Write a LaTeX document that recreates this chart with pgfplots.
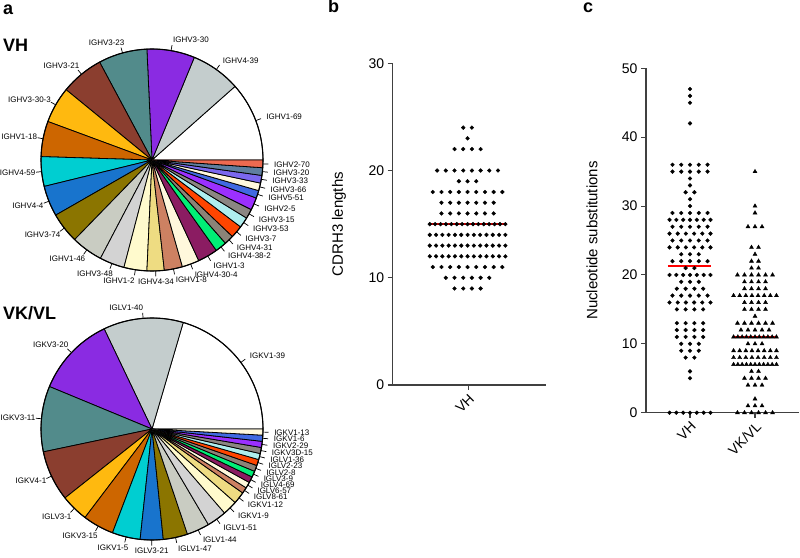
\documentclass[border=0pt]{standalone}
\usepackage{fontspec}
\setmainfont{Liberation Sans}
\setsansfont{Liberation Sans}
\usepackage{pgfplots}
\pgfplotsset{compat=1.18}

\definecolor{pc1}{HTML}{FFFFFF}
\definecolor{pc2}{HTML}{C4CDCD}
\definecolor{pc3}{HTML}{8A2BE2}
\definecolor{pc4}{HTML}{528B8B}
\definecolor{pc5}{HTML}{8B3E2F}
\definecolor{pc6}{HTML}{FFB90F}
\definecolor{pc7}{HTML}{CD6600}
\definecolor{pc8}{HTML}{00CED1}
\definecolor{pc9}{HTML}{1874CD}
\definecolor{pc10}{HTML}{8B7500}
\definecolor{pc11}{HTML}{C9CCC2}
\definecolor{pc12}{HTML}{D3D3D3}
\definecolor{pc13}{HTML}{FFFACD}
\definecolor{pc14}{HTML}{EEDC82}
\definecolor{pc15}{HTML}{CD8162}
\definecolor{pc16}{HTML}{FFF8DC}
\definecolor{pc17}{HTML}{8B1C62}
\definecolor{pc18}{HTML}{00EE76}
\definecolor{pc19}{HTML}{8B8378}
\definecolor{pc20}{HTML}{FF4500}
\definecolor{pc21}{HTML}{AEEEEE}
\definecolor{pc22}{HTML}{8B8682}
\definecolor{pc23}{HTML}{9B30FF}
\definecolor{pc24}{HTML}{4169E1}
\definecolor{pc25}{HTML}{FFF8DC}
\definecolor{pc26}{HTML}{7B68EE}
\definecolor{pc27}{HTML}{5F7F9F}
\definecolor{pc28}{HTML}{EE6A50}

\newcommand\pielab{\fontsize{8}{9}\selectfont}
\newcommand\tickfont{\fontsize{14}{16}\selectfont}
\newcommand\labfont{\fontsize{15}{17}\selectfont}

% pie: list of label/value/colour, drawn counter-clockwise from 0 degrees
\newcommand\drawpie[1]{%
  \gdef\pietot{0}%
  \foreach \lab/\val/\col in {#1}{\pgfmathsetmacro\tmpsum{\pietot+\val}\xdef\pietot{\tmpsum}}%
  \gdef\piecum{0}%
  \foreach \lab/\val/\col in {#1}{%
    \pgfmathsetmacro\pa{\piecum/\pietot*360}%
    \pgfmathsetmacro\pb{(\piecum+\val)/\pietot*360}%
    \pgfmathsetmacro\pmid{(\pa+\pb)/2}%
    \pgfmathsetmacro\cm{cos(\pmid)}%
    \pgfmathsetmacro\sm{sin(\pmid)}%
    \ifdim\cm pt<0pt \def\anc{east}\def\xs{5pt}\else\def\anc{west}\def\xs{0pt}\fi
    \ifdim\cm pt>-0.2pt \ifdim\cm pt<0pt \def\xs{1pt}\fi\fi
    \ifdim\cm pt<0.08pt \ifdim\cm pt>-0.08pt \def\anc{center}\def\xs{0pt}\fi\fi
    \edef\tmp{\noexpand\fill[fill=\col, draw=black, line width=0.8pt, line join=round]
        (axis cs:0,0) -- (axis cs:{cos(\pa)},{sin(\pa)}) arc[start angle=\pa, end angle=\pb, radius=111pt] -- cycle;
      \noexpand\draw[line width=0.7pt] (axis cs:\cm,\sm) -- (axis cs:{1.05*\cm},{1.05*\sm});
      \noexpand\node[anchor=\anc, xshift=\xs, inner sep=0pt, font=\noexpand\pielab]
        at (axis cs:{1.1*\cm},{1.1*\sm}) {\lab};}%
    \tmp
    \pgfmathsetmacro\tmpsum{\piecum+\val}\xdef\piecum{\tmpsum}%
  }%
  \draw[line width=1.1pt] (axis cs:0,0) circle[radius=111pt];
}

% dot plot rows: #1 centre, #2 spacing, #3 max row width, #4 plot options, #5 list value/count
\newcommand\swarm[5]{%
  \gdef\swarmpts{}%
  \foreach \yy/\nn in {#5}{%
    \pgfmathsetmacro\swsp{min(#2,#3/max(\nn-1,1))}%
    \foreach \k in {1,...,\nn}{%
      \pgfmathsetmacro\xx{#1+(\k-(\nn+1)/2)*\swsp}%
      \xdef\swarmpts{\swarmpts (\xx,\yy)}%
    }%
  }%
  \edef\swarmcmd{\noexpand\addplot[#4] coordinates {\swarmpts};}%
  \swarmcmd
}

\pgfplotsset{dotplot/.style={
    scale only axis, axis lines=left,
    axis line style={-, line width=1.1pt, black!75},
    every outer x axis line/.append style={-},
    every outer y axis line/.append style={-},
    tick style={line width=1.1pt, black!75},
    major tick length=5pt, tick align=outside,
    enlargelimits=false, clip=false, ymin=0,
    tick label style={font=\tickfont},
    /pgf/number format/assume math mode=true,
    xticklabel style={rotate=45, anchor=north east, inner sep=2pt},
    label style={font=\labfont}}}

\begin{document}
\begin{tikzpicture}[x=1pt,y=1pt]
\useasboundingbox (0,0) rectangle (800,557);

\node[anchor=base west, inner sep=0pt, font=\bfseries\fontsize{18}{20}\selectfont] at (3,542) {a};
\node[anchor=base west, inner sep=0pt, font=\bfseries\fontsize{18}{20}\selectfont] at (328,544) {b};
\node[anchor=base west, inner sep=0pt, font=\bfseries\fontsize{18}{20}\selectfont] at (583,544) {c};
\node[anchor=base west, inner sep=0pt, font=\bfseries\fontsize{18}{20}\selectfont] at (3,505) {VH};
\node[anchor=base west, inner sep=0pt, font=\bfseries\fontsize{18}{20}\selectfont] at (3,237) {VK/VL};

% VH pie
\begin{axis}[hide axis, x=111pt, y=111pt, xmin=-1, xmax=1, ymin=-1, ymax=1,
    at={(152pt,397pt)}, anchor=center, clip=false]
\drawpie{IGHV1-69/41.5/pc1, IGHV4-39/26/pc2, IGHV3-30/25/pc3, IGHV3-23/25.5/pc4,
  IGHV3-21/22.5/pc5, IGHV3-30-3/19/pc6, IGHV1-18/18.5/pc7, IGHV4-59/15.5/pc8,
  IGHV4-4/16/pc9, IGHV3-74/16/pc10, IGHV1-46/16.5/pc11, IGHV3-48/13/pc12,
  IGHV1-2/12/pc13, IGHV4-34/9/pc14, IGHV1-8/9.5/pc15, IGHV4-30-4/9/pc16,
  IGHV1-3/10.5/pc17, IGHV4-38-2/6/pc18, IGHV4-31/5/pc19, IGHV3-7/6.5/pc20,
  IGHV3-53/5.5/pc21, IGHV3-15/5/pc22, IGHV2-5/6.5/pc23, IGHV5-51/4/pc24,
  IGHV3-66/4/pc25, IGHV3-33/4/pc26, IGHV3-20/4/pc27, IGHV2-70/4/pc28}
\end{axis}

% VK/VL pie
\begin{axis}[hide axis, x=111pt, y=111pt, xmin=-1, xmax=1, ymin=-1, ymax=1,
    at={(152pt,128pt)}, anchor=center, clip=false]
\drawpie{IGKV1-39/73.7/pc1, IGLV1-40/41.9/pc2, IGKV3-20/42/pc3, IGKV3-11/34.4/pc4,
  IGKV4-1/26.5/pc5, IGLV3-1/14.5/pc6, IGKV3-15/16.3/pc7, IGKV1-5/14.7/pc8,
  IGLV3-21/12/pc9, IGLV1-47/12.8/pc10, IGLV1-44/11.9/pc11, IGLV1-51/10.3/pc12,
  IGKV1-9/7.7/pc13, IGKV1-12/6.3/pc14, IGLV8-61/3.2/pc15, IGLV6-57/3.2/pc16,
  IGLV4-69/3.2/pc17, IGLV3-9/3.2/pc18, IGLV2-8/3.2/pc19, IGLV2-23/3.2/pc20,
  IGLV1-36/3.2/pc21, IGKV3D-15/3.2/pc22, IGKV2-29/3.2/pc23, IGKV1-6/3.2/pc24,
  IGKV1-13/3.2/pc25}
\end{axis}

% b: CDRH3 lengths
\begin{axis}[dotplot, at={(392.7pt,172pt)}, anchor=south west,
    width=153.5pt, height=321.7pt, xmin=0, xmax=2.03, ymax=30,
    ytick={0,10,20,30}, xtick={1}, xticklabels={VH},
    ylabel={CDRH3 lengths},
    ylabel style={at={(axis description cs:-0.35,0.5)}, anchor=center}]
\addplot[red!75!black, line width=2pt] coordinates {(0.507,15) (1.512,15)};
\swarm{0.99}{0.115}{1.0}{only marks, mark=*, mark size=1.9pt, black}
  {24/2, 23/1, 22/4, 20/8, 19/3, 18/9, 17/7, 16/7, 15/15, 14/13, 13/13, 12/13, 11/9, 10/6, 9/4}
\end{axis}

% c: nucleotide substitutions
\begin{axis}[dotplot, at={(646pt,144.3pt)}, anchor=south west,
    width=153.2pt, height=344.4pt, xmin=0.323, xmax=2.68, ymax=50,
    ytick={0,10,20,30,40,50}, xtick={1,2}, xticklabels={VH,VK/VL},
    ylabel={Nucleotide substitutions},
    ylabel style={at={(axis description cs:-0.352,0.5)}, anchor=center}]
\swarm{1}{0.135}{0.63}{only marks, mark=*, mark size=1.9pt, black}
  {47/1, 46/1, 45/1, 42/1, 36/5, 35/5, 34/1, 33/1, 32/2, 31/1, 30/1, 29/5, 28/7,
   27/5, 26/6, 25/5, 24/6, 23/3, 22/5, 21/2, 20/7, 19/3, 18/4, 17/5, 16/6, 15/4,
   13/4, 12/4, 11/4, 10/3, 9/3, 8/2, 6/1, 5/1, 0/7}
\addplot[red, line width=2.5pt] coordinates {(0.661,21.3) (1.323,21.3)};
\addplot[red!85!black, line width=2pt] coordinates {(1.657,11) (2.323,11)};
\swarm{2}{0.108}{0.66}{only marks, mark=triangle*, mark size=2.3pt, black}
  {35/1, 30/1, 29/1, 27/3, 24/2, 23/1, 22/2, 21/2, 20/6, 19/4, 18/4, 17/8, 16/4,
   15/4, 14/1, 13/6, 12/5, 11/11, 10/3, 9/8, 8/8, 7/11, 6/2, 5/4, 4/3, 2/1, 1/3, 0/6}
\end{axis}
\end{tikzpicture}
\end{document}
